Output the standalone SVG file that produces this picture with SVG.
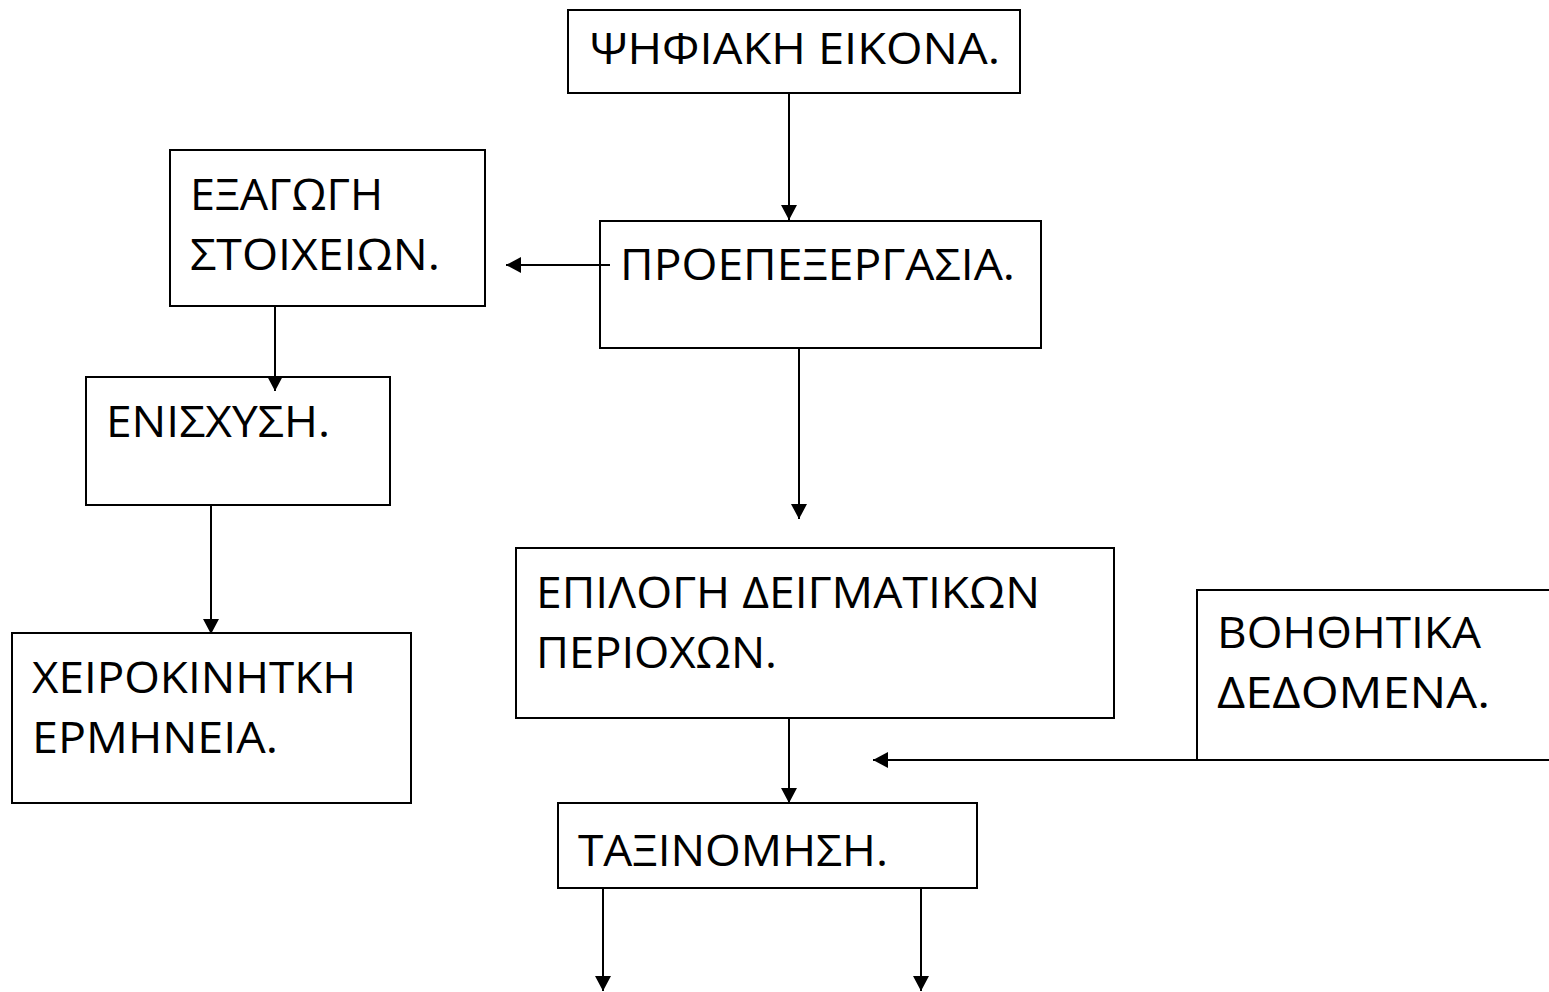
<svg xmlns="http://www.w3.org/2000/svg" width="1549" height="992" viewBox="0 0 1549 992">
<style>
.box{fill:#fff;stroke:#000;stroke-width:2}
.t{font-family:"Open Sans","Liberation Sans",sans-serif;font-size:43px;fill:#000}
.c{stroke:#000;stroke-width:2;fill:none;marker-end:url(#ah)}
</style>
<defs>
<marker id="ah" markerUnits="userSpaceOnUse" markerWidth="16" markerHeight="16" refX="15" refY="8" orient="auto">
<path d="M0,0 L15,8 L0,16 Z" fill="#000"/>
</marker>
</defs>
<rect width="1549" height="992" fill="#fff"/>
<g id="n1"><rect class="box" x="568" y="10" width="452" height="83"/><text class="t" x="590" y="64" textLength="410" lengthAdjust="spacingAndGlyphs">ΨΗΦΙΑΚΗ ΕΙΚΟΝΑ.</text></g>
<g id="n2"><rect class="box" x="600" y="221" width="441" height="127"/><text class="t" x="620" y="280" textLength="395" lengthAdjust="spacingAndGlyphs">ΠΡΟΕΠΕΞΕΡΓΑΣΙΑ.</text></g>
<g id="n3"><rect class="box" x="170" y="150" width="315" height="156"/><text class="t" x="190" y="210" textLength="193" lengthAdjust="spacingAndGlyphs">ΕΞΑΓΩΓΗ</text><text class="t" x="190" y="270" textLength="250" lengthAdjust="spacingAndGlyphs">ΣΤΟΙΧΕΙΩΝ.</text></g>
<g id="n4"><rect class="box" x="86" y="377" width="304" height="128"/><text class="t" x="106" y="437" textLength="224" lengthAdjust="spacingAndGlyphs">ΕΝΙΣΧΥΣΗ.</text></g>
<g id="n5"><rect class="box" x="12" y="633" width="399" height="170"/><text class="t" x="32" y="693" textLength="324" lengthAdjust="spacingAndGlyphs">ΧΕΙΡΟΚΙΝΗΤΚΗ</text><text class="t" x="32" y="753" textLength="246" lengthAdjust="spacingAndGlyphs">ΕΡΜΗΝΕΙΑ.</text></g>
<g id="n6"><rect class="box" x="516" y="548" width="598" height="170"/><text class="t" x="536" y="608" textLength="504" lengthAdjust="spacingAndGlyphs">ΕΠΙΛΟΓΗ ΔΕΙΓΜΑΤΙΚΩΝ</text><text class="t" x="536" y="668" textLength="241" lengthAdjust="spacingAndGlyphs">ΠΕΡΙΟΧΩΝ.</text></g>
<g id="n7"><rect class="box" x="558" y="803" width="419" height="85"/><text class="t" x="578" y="866" textLength="310" lengthAdjust="spacingAndGlyphs">ΤΑΞΙΝΟΜΗΣΗ.</text></g>
<g id="n8"><rect class="box" x="1197" y="590" width="380" height="170"/><text class="t" x="1217" y="648" textLength="264" lengthAdjust="spacingAndGlyphs">ΒΟΗΘΗΤΙΚΑ</text><text class="t" x="1217" y="708" textLength="273" lengthAdjust="spacingAndGlyphs">ΔΕΔΟΜΕΝΑ.</text></g>
<g id="connectors">
<line class="c" x1="789" y1="93" x2="789" y2="220"/>
<line class="c" x1="610" y1="265" x2="506" y2="265"/>
<line class="c" x1="275" y1="306" x2="275" y2="391"/>
<line class="c" x1="211" y1="505" x2="211" y2="634"/>
<line class="c" x1="799" y1="348" x2="799" y2="519"/>
<line class="c" x1="789" y1="718" x2="789" y2="803"/>
<line class="c" x1="1549" y1="760" x2="873" y2="760"/>
<line class="c" x1="603" y1="888" x2="603" y2="991"/>
<line class="c" x1="921" y1="888" x2="921" y2="991"/>
</g>
</svg>
